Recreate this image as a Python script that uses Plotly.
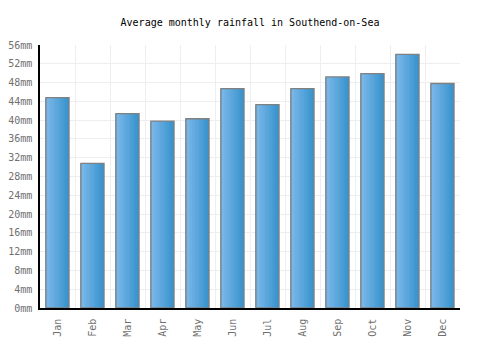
import plotly.graph_objects as go
import numpy as np

months = ["Jan", "Feb", "Mar", "Apr", "May", "Jun", "Jul", "Aug", "Sep", "Oct", "Nov", "Dec"]
rainfall = [44.8, 30.8, 41.4, 39.8, 40.3, 46.7, 43.3, 46.7, 49.2, 49.9, 54.0, 47.8]
y_ticks = list(range(0, 57, 4))
y_labels = [f"{v}mm" for v in y_ticks]

x = [i + 0.5 for i in range(len(months))]
bar_w = 0.66
n_slices = 14
c0 = np.array([0x7d, 0xb9, 0xea])
c1 = np.array([0x38, 0x94, 0xce])

fig = go.Figure()
sw = bar_w / n_slices
for k in range(n_slices):
    t = k / (n_slices - 1)
    c = (c0 * (1 - t) + c1 * t).astype(int)
    fig.add_trace(go.Bar(
        x=x, y=rainfall, width=sw, offset=-bar_w / 2 + k * sw,
        marker=dict(color=f"rgb({c[0]},{c[1]},{c[2]})", line=dict(width=0)),
        hoverinfo="skip", showlegend=False,
    ))
fig.add_trace(go.Bar(
    x=x, y=rainfall, width=bar_w,
    marker=dict(color="rgba(0,0,0,0)", line=dict(color="#808080", width=1.3)),
    showlegend=False,
))

fig.update_layout(
    barmode="overlay",
    width=500, height=350,
    margin=dict(l=40, r=40, t=45, b=42),
    paper_bgcolor="white", plot_bgcolor="white",
    font=dict(family="DejaVu Sans Mono", size=10, color="#666666"),
    title=dict(text="Average monthly rainfall in Southend-on-Sea", x=0.5, xanchor="center",
               y=1 - 22 / 350, yanchor="middle",
               font=dict(family="DejaVu Sans Mono", size=10, color="#000000")),
    xaxis=dict(range=[0, 12], tickvals=x, ticktext=months, tickangle=-90, automargin=False,
               showgrid=False, zeroline=False, showline=True, linecolor="#000000", linewidth=1.5,
               ticks="", ticklabelstandoff=5, tickfont=dict(size=10, color="#707070"),
               minor=dict(tick0=0, dtick=1, showgrid=True, gridcolor="#eeeeee", gridwidth=1)),
    yaxis=dict(range=[0, 56], tickvals=y_ticks, ticktext=y_labels, showgrid=True, automargin=False,
               gridcolor="#eeeeee", gridwidth=1, zeroline=False, showline=True,
               linecolor="#000000", linewidth=1.5, ticks="", ticklabelstandoff=4,
               tickfont=dict(size=10, color="#707070")),
)

fig.write_html("out.html")
